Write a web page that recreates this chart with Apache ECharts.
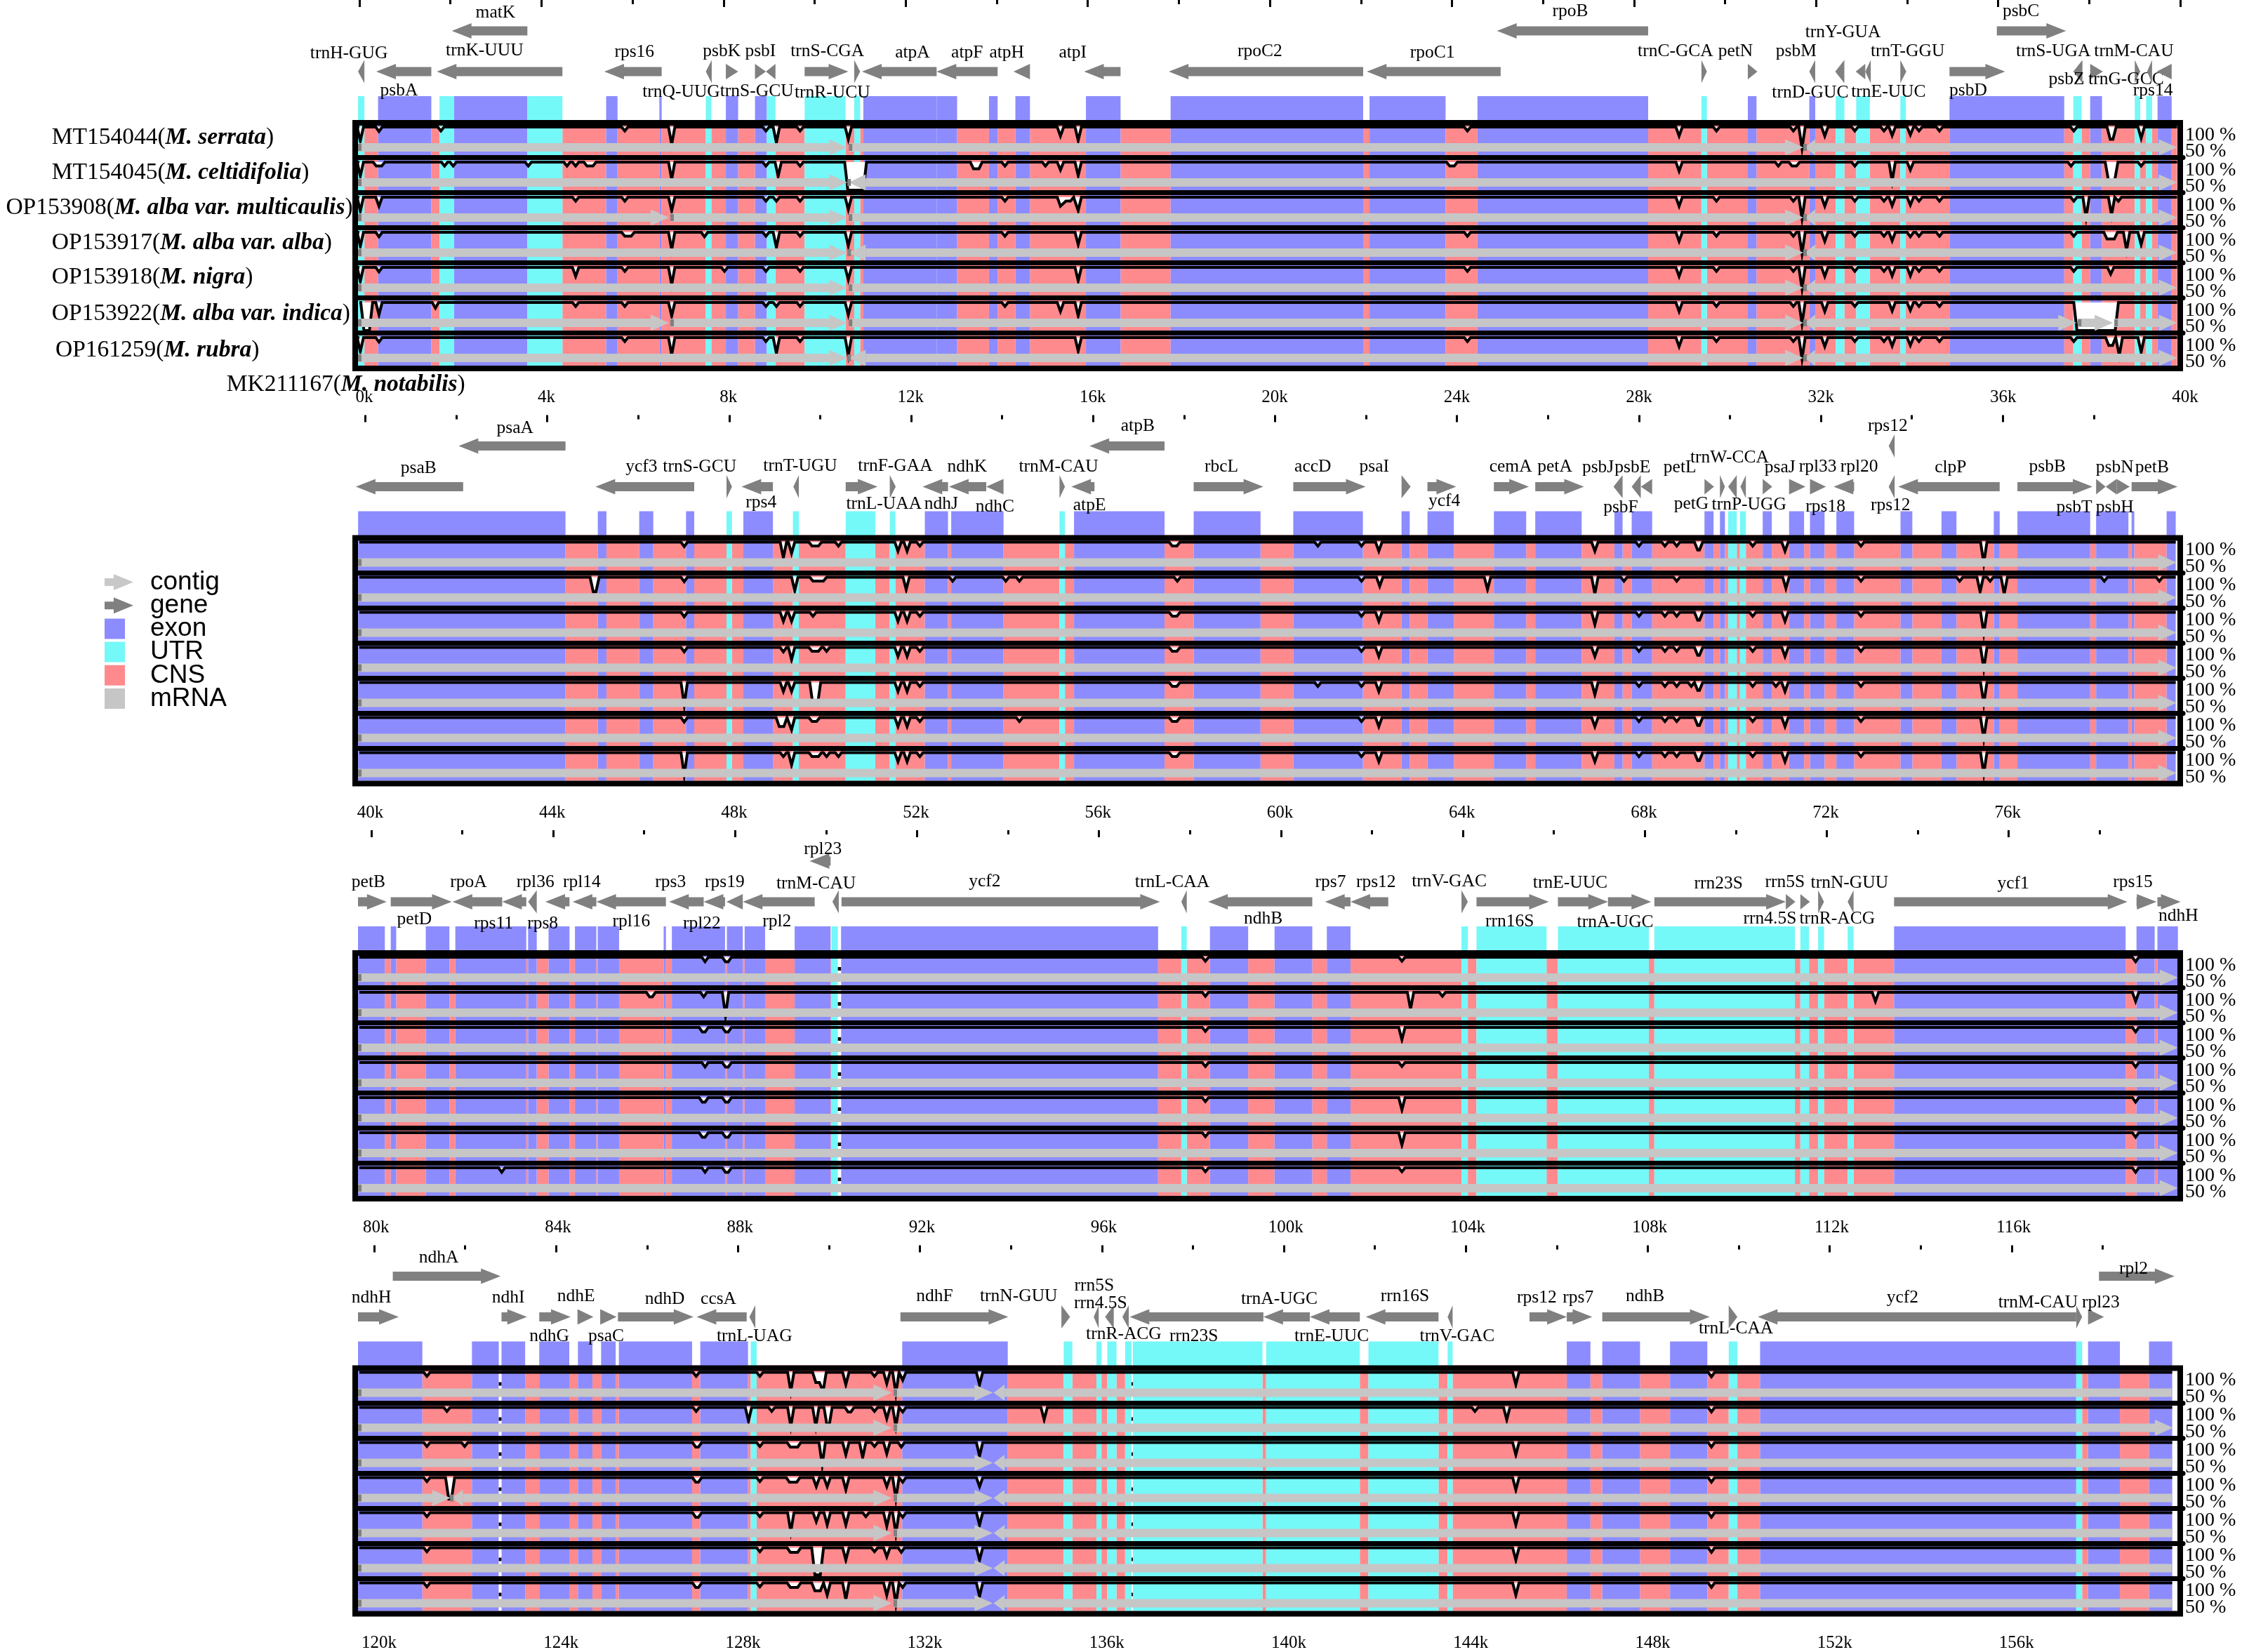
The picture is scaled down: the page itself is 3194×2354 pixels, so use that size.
<!DOCTYPE html>
<html>
<head>
<meta charset="utf-8">
<title>mVISTA</title>
<script src="https://cdn.jsdelivr.net/npm/echarts@6/dist/echarts.min.js"></script>
<style>
html,body{margin:0;padding:0;background:#fff}
#main{width:3194px;height:2354px}
</style>
</head>
<body>
<div id="main"></div>
<script>
// all x values are in kb
var panelStart = [-0.031, 39.838, 79.71, 119.645];
var panelEnd = [40.06, 79.961, 119.833, 159.768];
var bandEnd = [39.93, 79.8, 119.72, 159.53];

var majorTicks = [
	[0,4,8,12,16,20,24,28,32,36,40],
	[40,44,48,52,56,60,64,68,72,76],
	[80,84,88,92,96,100,104,108,112,116],
	[120,124,128,132,136,140,144,148,152,156]
];
var minorTicks = [
	[2,6,10,14,18,22,26,30,34,38],
	[42,46,50,54,58,62,66,70,74,78],
	[82,86,90,94,98,102,106,110,114,118],
	[122,126,130,134,138,142,146,150,154,158]
];

var trackNames = ['M. serrata','M. celtidifolia','M. alba var. multicaulis','M. alba var. alba','M. nigra','M. alba var. indica','M. rubra'];
var trackIds = ['MT154044','MT154045','OP153908','OP153917','OP153918','OP153922','OP161259'];

// exon and UTR blocks, the gaps between them are CNS
var exons1 = [[.41,1.58],[2.08,3.69],[5.42,5.67],[6.59,6.64],[8.05,8.32],[8.69,8.95],[11.07,12.68],[12.68,13.13],[13.83,14.02],[14.41,14.73],[15.96,16.72],[17.82,22.05],[22.19,23.86],[24.56,28.31],[30.5,30.69],[31.85,31.98],[34.93,37.45],[38.02,38.28],[39.5,39.81]];
var utrs1 = [[-.031,.11],[1.76,2.08],[3.69,4.46],[7.61,7.73],[8.95,9.14],[9.78,10.68],[10.87,11],[29.48,29.6],[32.43,32.62],[32.88,33.18],[33.85,33.97],[37.65,37.83],[39,39.12],[39.25,39.38]];
var exons2 = [[39.84,44.4],[45.11,45.3],[46.02,46.33],[47.05,47.23],[48.31,48.96],[52.3,52.81],[52.88,54.03],[55.58,57.57],[58.21,59.68],[60.4,61.93],[62.78,62.96],[63.35,63.93],[64.81,65.52],[65.72,66.74],[67.46,67.64],[67.84,68.29],[69.44,69.64],[69.78,69.89],[70.72,70.92],[71.3,71.63],[71.76,72.08],[72.34,72.73],[73.75,74.01],[74.65,74.98],[75.8,75.93],[76.32,77.92],[78.05,78.76],[78.83,78.89],[79.6,79.8]];
var utrs2 = [[47.94,48.06],[49.4,49.53],[50.56,51.21],[51.53,51.65],[55.26,55.38],[69.96,70.15],[70.22,70.35]];
var exons3 = [[79.71,80.3],[80.43,80.55],[81.2,81.72],[81.85,83.41],[83.45,83.64],[83.9,84.36],[84.48,84.95],[84.98,85.45],[86.43,86.48],[86.61,87.78],[87.82,88.17],[88.21,88.66],[89.31,90.1],[90.33,97.3],[98.44,99.28],[99.86,100.69],[101.01,101.53],[113.48,118.57],[118.81,119.21],[119.27,119.72]];
var utrs3 = [[90.12,90.26],[97.81,97.93],[103.97,104.11],[104.3,105.84],[106.09,108.09],[108.21,111.3],[111.42,111.61],[111.81,111.94],[112.46,112.59]];
var exons4 = [[119.645,121.06],[122.15,122.74],[122.8,123.32],[123.63,124.29],[124.48,124.8],[124.99,125.31],[125.38,126.99],[127.17,128.22],[131.61,133.93],[146.22,146.74],[147,147.83],[148.49,149.31],[150.47,157.42],[157.68,158.38],[159.02,159.53]];
var utrs4 = [[128.28,128.41],[135.16,135.35],[135.88,135.99],[136.12,136.32],[136.51,136.65],[136.68,139.53],[139.61,141.67],[141.86,143.4],[143.6,143.71],[149.78,149.97],[157.42,157.55]];

// short alignment holes
var holes3 = [[90.26,90.33]];
var holes4 = [[122.74,122.8],[136.65,136.68]];

// genes, a span runs from tail to tip. the first ones of each panel sit on the upper lane
var upperCount = [3, 3, 1, 2];
var geneNames1 = ['matK','rpoB','psbC','trnH-GUG','psbA','trnK-UUU','rps16','trnQ-UUG','psbK','trnS-GCU','psbI','trnS-CGA','trnR-UCU','atpA','atpF','atpH','atpI','rpoC2','rpoC1','trnC-GCA','petN','psbM','trnD-GUC','trnY-GUA','trnE-UUC','trnT-GGU','psbD','trnS-UGA','psbZ','trnG-GCC','trnM-CAU','rps14'];
var geneSpans1 = [[3.69,2.03],[28.31,24.99],[35.97,37.49],[.11,-.03],[1.58,.37],[4.46,1.7],[6.64,5.38],[7.74,7.61],[8.05,8.32],[8.69,8.93],[9.14,8.93],[9.78,10.74],[10.87,11],[12.68,11.04],[14.02,12.68],[14.73,14.37],[16.72,15.92],[22.05,17.78],[25.07,22.13],[29.48,29.6],[30.5,30.71],[31.98,31.85],[32.62,32.42],[33.08,32.87],[33.2,33.08],[33.85,33.98],[34.93,36.15],[37.85,37.65],[38.02,38.3],[39,39.12],[39.38,39.27],[39.81,39.48]];
var geneNames2 = ['psaA','atpB','rps12','psaB','ycf3','trnS-GCU','rps4','trnT-UGU','trnF-GAA','trnL-UAA','ndhJ','ndhK','ndhC','trnM-CAU','atpE','rbcL','accD','psaI','ycf4','cemA','petA','psbJ','psbF','psbE','petL','petG','trnW-CCA','trnP-UGG','psaJ','rpl33','rps18','rpl20','rps12','clpP','psbB','psbT','psbN','psbH','petB'];
var geneSpans2 = [[44.4,42.05],[57.57,55.92],[73.62,73.49],[42.15,39.79],[47.23,45.06],[47.94,48.06],[48.96,48.27],[49.53,49.41],[50.56,51.26],[51.53,51.66],[52.81,52.25],[53.65,52.83],[54.03,53.65],[55.26,55.38],[56.03,55.52],[58.21,59.74],[60.4,61.99],[62.78,62.98],[63.35,63.98],[64.81,65.58],[65.72,66.79],[67.64,67.44],[68.04,67.84],[68.29,68.04],[69.44,69.65],[69.78,69.89],[70.15,69.96],[70.35,70.23],[70.72,70.93],[71.3,71.66],[71.76,72.11],[72.73,72.28],[73.62,73.49],[75.93,73.7],[76.32,77.97],[78.05,78.26],[78.5,78.26],[78.5,78.79],[78.83,79.84]];
var geneNames3 = ['rpl23','petB','petD','rpoA','rps11','rpl36','rps8','rpl14','rpl16','rps3','rpl22','rps19','rpl2','trnM-CAU','ycf2','trnL-CAA','ndhB','rps7','rps12','trnV-GAC','rrn16S','trnE-UUC','trnA-UGC','rrn23S','rrn4.5S','rrn5S','trnR-ACG','trnN-GUU','ycf1','rps15','ndhH'];
var geneSpans3 = [[90.1,89.64],[79.71,80.34],[80.43,81.77],[82.88,81.79],[83.41,82.88],[83.64,83.45],[84.36,83.83],[84.95,84.43],[86.48,84.95],[87.31,86.55],[87.78,87.31],[88.17,87.81],[89.75,88.17],[90.28,90.14],[90.34,97.34],[97.93,97.81],[100.69,98.4],[101.53,100.97],[102.36,101.53],[103.97,104.11],[104.3,105.89],[106.09,107.19],[107.19,108.14],[108.21,111.1],[111.1,111.31],[111.42,111.63],[111.81,111.94],[112.59,112.46],[113.48,118.61],[118.81,119.25],[119.27,119.78]];
var geneNames4 = ['ndhA','rpl2','ndhH','ndhI','ndhG','ndhE','psaC','ndhD','ccsA','trnL-UAG','ndhF','trnN-GUU','rrn5S','rrn4.5S','trnR-ACG','rrn23S','trnA-UGC','trnE-UUC','rrn16S','trnV-GAC','rps12','rps7','ndhB','trnL-CAA','ycf2','trnM-CAU','rpl23'];
var geneSpans4 = [[120.41,122.78],[157.92,159.58],[119.645,120.54],[122.8,123.36],[123.63,124.32],[124.47,124.82],[124.97,125.33],[125.36,127.02],[128.19,127.09],[128.38,128.25],[131.57,133.94],[135.11,135.3],[135.93,135.82],[136.26,136.07],[136.59,136.45],[139.55,136.61],[140.57,139.55],[141.67,140.57],[143.4,141.8],[143.71,143.6],[145.4,146.22],[146.22,146.78],[147,149.36],[149.78,149.97],[157.42,150.42],[157.42,157.55],[157.68,158.03]];

// where each gene's name goes: kb, height
var labelPlace1 = [[2.99,18],[26.6,16],[36.5,16],[-.23,76.5],[.87,129],[2.75,72],[6.04,74],[7.07,131.6],[7.96,73.5],[8.73,130],[8.81,73.5],[10.28,73.5],[10.39,132],[12.15,75],[13.35,75],[14.22,75],[15.67,75],[19.78,73.5],[23.57,75],[28.91,73.5],[30.23,73.5],[31.56,73.5],[31.87,132],[32.59,46],[33.59,131],[34.01,73.5],[35.34,129],[37.21,73.5],[37.5,113],[38.81,113],[38.98,73.5],[39.4,129]];
var labelPlace2 = [[43.29,19],[56.98,16],[73.47,16],[41.17,76],[46.07,74],[47.35,73.5],[48.7,124.4],[49.56,72.7],[51.65,72.7],[51.4,126.7],[52.66,126.7],[53.23,73.5],[53.84,131],[55.24,73.5],[55.92,129],[58.82,73.5],[60.83,73.5],[62.18,74],[63.72,122.4],[65.18,74],[66.15,74],[67.1,75],[67.6,132],[67.86,75],[68.9,75],[69.15,127],[69.99,61],[70.42,127.5],[71.1,75],[71.93,74],[72.1,131],[72.84,73.5],[73.53,129],[74.85,75],[76.98,73.5],[77.57,132],[78.46,75],[78.46,132],[79.28,75]];
var labelPlace3 = [[89.93,27],[79.94,74.5],[80.95,127],[82.14,74.5],[82.69,133],[83.61,74.5],[83.77,133],[84.63,74.5],[85.72,130],[86.58,74.5],[87.27,133],[87.77,74.5],[88.92,130],[89.78,76],[93.49,73.5],[97.61,74.5],[99.61,126],[101.09,74.5],[102.09,74.5],[103.7,73.5],[105.03,130],[106.36,75],[107.35,131],[109.62,76],[110.75,126],[111.08,74.5],[112.23,126],[112.5,75],[116.1,76],[118.73,74.5],[119.73,122.7]];
var labelPlace4 = [[121.42,17.7],[158.68,33.6],[119.94,74.5],[122.95,74.5],[123.85,130],[124.44,73],[125.1,130],[126.39,76.4],[127.57,76.4],[128.36,130],[132.32,73],[134.17,73],[135.83,57.5],[135.97,83],[136.48,127],[138.02,130],[139.9,76.4],[141.05,129.4],[142.66,73],[143.81,129.4],[145.56,74.5],[146.47,74.5],[147.94,73],[149.94,119],[153.6,74.5],[156.58,81.3],[157.96,81.3]];

// contigs per track. third value 0: ends without a head, fourth value 0: no dark start mark
var contigs1 = [
	[[-.031,10.72],[10.75,31.72],[31.98,31.75],[31.98,39.93,1,0]],
	[[-.031,10.72],[11.12,10.75],[11.12,39.93,1,0]],
	[[-.031,6.8],[6.83,10.72],[10.75,31.72],[31.98,31.75],[31.98,39.93,1,0]],
	[[-.031,10.72],[11.12,10.75],[11.12,31.72,1,0],[31.98,31.75],[31.98,39.93,1,0]],
	[[-.031,10.72],[10.75,31.72],[31.98,31.75],[31.98,39.93,1,0]],
	[[-.031,6.8],[6.83,10.72],[10.75,31.72],[31.98,31.75],[31.98,37.72,1,0],[37.75,38.52],[38.55,39.93]],
	[[-.031,10.72],[11.12,10.75],[11.12,31.72,1,0],[31.98,31.75],[31.98,39.93,1,0]]
];
var contigs2 = [[[39.84,79.82]],[[39.84,79.82]],[[39.84,79.82]],[[39.84,79.82]],[[39.84,79.82]],[[39.84,79.82]],[[39.84,79.82]]];
var contigs3 = [[[79.71,119.72]],[[79.71,119.72]],[[79.71,119.72]],[[79.71,119.72]],[[79.71,119.72]],[[79.71,119.72]],[[79.71,119.72]]];
var contigs4 = [
	[[119.645,131.38],[131.42,133.6],[133.86,133.62,1,0],[133.86,159.52,0,0]],
	[[119.645,131.38],[131.42,159.55]],
	[[119.645,133.6],[133.86,133.62,1,0],[133.86,159.52,0,0]],
	[[119.645,121.68],[121.95,121.7],[121.95,131.38,1,0],[131.42,133.6],[133.86,133.62,1,0],[133.86,159.52,0,0]],
	[[119.645,131.38],[131.42,133.6],[133.86,133.62,1,0],[133.86,159.52,0,0]],
	[[119.645,133.6],[133.86,133.62,1,0],[133.86,159.52,0,0]],
	[[119.645,131.38],[131.42,133.6],[133.86,133.62,1,0],[133.86,159.52,0,0]]
];

// dips of the identity curve per track: kb, lowest %, optional half width of a flat bottom
var dips1 = [
	[[.02,75],[.43,92],[1.79,93],[5.83,93],[6.86,69],[8.93,93],[9.16,72],[9.68,93],[10.74,78],[15.4,84],[15.79,76],[24.34,93],[28.99,84],[29.81,93],[31.5,93],[31.69,62],[32.19,84],[32.85,93],[33.49,93],[33.67,85],[34.07,86],[34.26,93],[34.71,93],[37.66,93],[38.49,78,.03],[39.14,80]],
	[[.02,75],[.43,93,.06],[1.87,93],[2.06,93],[3.71,93],[4.56,93],[4.75,93],[5,93],[5.13,93],[6.86,69],[8.93,93],[9.2,75],[9.68,93],[10.9,50,.17],[13.55,88,.06],[14.18,93],[15.07,93],[15.4,86],[15.79,76],[24,93,.05],[28.99,84],[31.17,93],[31.52,93,.05],[32.85,93],[33.67,66],[34.07,86],[37.6,93],[38.49,68,.07],[39.14,93]],
	[[.02,75],[.43,84],[4.75,93],[5.83,93],[6.86,76],[8.93,93],[9.16,93],[9.68,93],[10.74,78],[14.18,93],[15.4,84],[15.57,93,.05],[15.79,76],[28.99,84],[29.81,93],[31.5,93],[31.69,62],[32.19,84],[32.85,93],[33.49,93],[33.67,85],[34.07,86],[34.26,93],[34.71,93],[37.66,93],[37.93,64],[38.49,68],[38.64,93]],
	[[.02,75],[.43,92],[5.83,93],[5.97,93],[6.86,69],[7.58,92],[8.93,93],[9.16,73],[9.68,93],[10.74,76],[14.18,93],[15.79,78],[24.34,93],[28.99,84],[29.81,93],[31.5,93],[31.69,62],[32.19,84],[32.85,93],[33.49,93],[33.67,85],[34.07,92],[34.26,93],[34.71,93],[37.66,93],[38.47,88,.08],[38.82,68],[39.14,78]],
	[[.02,75],[.43,92],[4.75,84],[5.83,93],[6.86,69],[8.02,93],[8.93,93],[9.68,93],[10.74,78],[15.79,76],[24.34,93],[28.99,84],[29.81,93],[31.5,93],[31.69,62],[32.19,84],[32.85,93],[33.49,93],[33.67,85],[34.07,85],[34.26,93],[34.71,93],[37.66,93],[38.47,88]],
	[[.16,50,.06],[.43,78],[1.67,90],[4.75,93],[5.83,93],[6.86,76],[8.93,93],[9.16,93],[9.68,93],[10.74,78],[14.18,93],[15.4,84],[15.79,76],[28.99,84],[29.81,93],[31.5,93],[31.69,62],[32.19,84],[32.85,93],[33.67,85],[34.07,86],[34.26,93],[34.71,93],[38.15,50,.42]],
	[[.02,75],[.43,92],[5.83,93],[6.86,69],[8.93,93],[9.16,72],[9.68,93],[10.74,68],[15.79,76],[24.34,93],[28.99,84],[29.81,93],[31.5,93],[31.69,62],[32.19,84],[32.85,93],[33.49,93],[33.67,85],[34.07,86],[34.26,93],[34.71,93],[37.66,93],[38.47,86,.04],[38.66,68],[39.14,74]]
];
var dips2 = [
	[[47.01,92],[49.19,72],[49.37,80],[49.89,93,.07],[50.4,93],[51.71,84],[51.91,84],[52.19,93],[57.79,93,.05],[60.94,93],[61.9,93],[62.28,84],[67.03,84],[68,93],[68.57,93],[68.83,93],[69.31,86,.02],[70.5,93],[71.21,84],[72.88,93],[75.58,62]],
	[[45.04,74,.03],[47.01,92],[49.44,76],[49.84,93],[50.02,93,.05],[51.89,78],[52.91,93],[54.08,93],[54.38,93],[57.85,93],[61.9,93],[62.3,84],[64.67,78],[67.03,70],[67.67,93],[68.83,93],[71.23,80],[72.88,93],[75.05,93],[75.5,74],[75.72,93],[76.03,70],[78.23,93],[79.44,93]],
	[[47.01,92],[49.19,84],[49.37,84],[49.84,93],[51.71,84],[51.91,84],[52.19,93],[57.79,93,.05],[61.9,93],[62.28,84],[67.03,78],[68,93],[68.57,93],[68.83,93],[69.31,86,.02],[70.5,93],[71.21,84],[72.88,93],[75.58,62]],
	[[47.01,92],[49.19,92],[49.37,78],[49.89,93,.07],[50.14,93],[51.71,84],[51.91,84],[52.19,93],[57.79,93,.05],[61.9,93],[62.28,84],[67.03,84],[68,93],[68.57,93],[68.83,93],[69.31,86,.02],[70.5,93],[71.21,84],[72.88,93],[75.58,62]],
	[[47.01,60],[49.19,84],[49.37,84],[49.89,60,.05],[51.71,84],[51.91,84],[52.19,93],[57.79,93,.05],[60.94,93],[61.9,93],[62.28,84],[67.03,78],[68,93],[68.57,93],[68.83,93],[69.15,93],[69.31,86,.02],[70.5,93],[71.01,93],[71.21,84],[72.88,93],[75.58,62]],
	[[47.01,92],[49.15,84,.05],[49.37,78],[49.87,93,.05],[51.71,84],[51.91,84],[52.19,93],[54.38,93],[57.79,93,.05],[61.9,93],[62.28,84],[67.03,84],[68,93],[68.57,93],[68.83,93],[69.31,86,.02],[70.5,93],[71.21,84],[72.88,93],[75.58,62]],
	[[47.01,60],[49.19,93],[49.37,78],[49.89,93,.07],[50.14,93],[50.4,93],[51.71,84],[51.91,84],[52.19,93],[57.79,93,.05],[61.9,93],[62.28,84],[67.03,84],[68,93],[68.57,93],[68.83,93],[69.31,86,.02],[70.5,93],[71.21,84],[72.88,93],[75.58,62]]
];
var dips3 = [
	[[87.34,92],[87.82,92,.03],[98.34,93],[102.66,93],[118.79,92]],
	[[86.15,92,.03],[87.31,92],[87.79,58],[98.34,93],[102.85,70],[103.55,93],[113.07,84],[118.79,84]],
	[[87.31,92,.03],[87.82,92,.03],[98.34,93],[102.66,78],[118.79,92]],
	[[87.34,92],[87.82,92,.03],[98.34,93],[102.66,93],[118.79,92]],
	[[87.31,92,.03],[87.82,92,.03],[98.34,93],[102.66,78],[118.79,92]],
	[[87.31,92,.03],[87.82,92,.03],[98.34,93],[102.66,78],[118.79,92]],
	[[82.87,92],[87.34,92],[87.82,92,.03],[98.34,93],[102.66,93],[118.79,92]]
];
var dips4 = [
	[[121.16,93],[127.08,93],[128.48,93],[129.16,66],[129.75,82,.04],[129.87,66],[130.37,78],[131,93],[131.27,80],[131.47,62],[131.62,86],[133.31,78],[145.1,78],[149.4,92]],
	[[121.6,93],[127.08,93],[128.23,76],[128.74,93],[129.16,66],[129.71,66],[129.98,66,.02],[130.45,92,.03],[131,93],[131.27,80],[131.47,66],[131.62,92],[134.73,78],[144.2,93],[144.9,78],[149.4,92]],
	[[121.16,93],[121.99,93],[127.1,92,.03],[128.48,93],[129.23,92,.08],[129.85,60],[130.37,78],[130.74,73],[131,93],[131.27,80],[131.59,92],[133.31,76],[145.1,78],[149.4,92]],
	[[121.16,93],[121.67,62,.03],[127.1,92,.03],[128.48,93],[129.21,92,.08],[129.72,84],[129.96,84],[130.37,78],[131.27,84],[131.47,62],[131.62,92],[133.31,84],[145.1,78],[149.4,92]],
	[[121.16,93],[127.1,92,.03],[128.48,93],[129.16,66],[129.72,84],[129.96,78],[130.37,78],[130.81,93],[131.27,76],[131.47,62],[131.62,92],[133.31,78],[145.1,78],[149.4,92]],
	[[121.16,93],[128.48,93],[129.23,92,.08],[129.75,52,.06],[130.37,78],[131,93],[131.27,84],[131.59,92],[133.31,78],[145.1,78],[149.4,92]],
	[[121.16,93],[127.1,92,.03],[128.48,93],[129.23,92,.08],[129.75,86,.06],[129.96,78],[130.37,70],[131.27,78],[131.47,62],[131.62,92],[133.31,76],[145.1,78],[149.4,92]]
];

var allExons = [exons1, exons2, exons3, exons4];
var allUtrs = [utrs1, utrs2, utrs3, utrs4];
var allHoles = [[], [], holes3, holes4];
var allNames = [geneNames1, geneNames2, geneNames3, geneNames4];
var allSpans = [geneSpans1, geneSpans2, geneSpans3, geneSpans4];
var allLabels = [labelPlace1, labelPlace2, labelPlace3, labelPlace4];
var allContigs = [contigs1, contigs2, contigs3, contigs4];
var allDips = [dips1, dips2, dips3, dips4];

var colors = {exon:'#8C8CFF', utr:'#75F8F8', cns:'#FF8A8E', mrna:'#C6C6C6', contig:'#C6C6C6', gene:'#808080'};
var serif = '"Liberation Serif"';

// layout of one panel, the plot grid is counted in pixels from 171 above the frame
var panelPitch = 591.5;
var plotLeft = 510, plotWidth = 2600, plotHeight = 529;
var frameTop = 171, rowPitch = 50;
var upperLane = 44, mainLane = 102, exonTop = 137, bandBottom = 521;

function cnsBlocks(p) {
	var all = allExons[p].concat(allUtrs[p]).sort(function(a, b){ return a[0] - b[0]; });
	var out = [], at = panelStart[p] < 0 ? -0.031 : all[0][0];
	for (var i = 0; i < all.length; i++) {
		if (all[i][0] > at) out.push([at, all[i][0]]);
		at = Math.max(at, all[i][1]);
	}
	if (at < bandEnd[p]) out.push([at, bandEnd[p]]);
	return out;
}

function blockSeries(name, color, blocks, top, x, y) {
	return {
		name: name, type: 'custom', coordinateSystem: 'cartesian2d', xAxisIndex: x, yAxisIndex: y,
		z: 2, silent: true, animation: false, itemStyle: {color: color},
		data: blocks,
		renderItem: function(params, api) {
			var a = api.coord([api.value(0), top]);
			var b = api.coord([api.value(1), bandBottom]);
			return {type: 'rect', shape: {x: a[0], y: a[1], width: b[0] - a[0], height: b[1] - a[1]}, style: {fill: color}};
		}
	};
}

function arrowPoints(x0, x1, y, headLen, headHalf, shaftHalf) {
	var d = x1 > x0 ? 1 : -1, w = Math.abs(x1 - x0);
	if (w <= headLen) return [[x0, y - headHalf], [x1, y], [x0, y + headHalf]];
	var n = x1 - d * headLen;
	return [[x0, y - shaftHalf], [n, y - shaftHalf], [n, y - headHalf], [x1, y], [n, y + headHalf], [n, y + shaftHalf], [x0, y + shaftHalf]];
}

function geneSeries(p, x, y) {
	var names = allNames[p], places = allLabels[p];
	return {
		name: 'gene', type: 'custom', coordinateSystem: 'cartesian2d', xAxisIndex: x, yAxisIndex: y,
		z: 3, silent: true, animation: false, itemStyle: {color: colors.gene},
		data: allSpans[p],
		renderItem: function(params, api) {
			var i = params.dataIndex;
			var lane = i < upperCount[p] ? upperLane : mainLane;
			var a = api.coord([api.value(0), lane]);
			var b = api.coord([api.value(1), lane]);
			var w = Math.abs(b[0] - a[0]);
			var pts = w <= 13 ? arrowPoints(a[0], b[0], a[1], 28, 16.5, 6.5) : arrowPoints(a[0], b[0], a[1], 28, 11, 6.5);
			var t = api.coord([places[i][0], places[i][1]]);
			return {type: 'group', children: [
				{type: 'polygon', shape: {points: pts}, style: {fill: colors.gene}},
				{type: 'text', style: {x: t[0], y: t[1], text: names[i], align: 'center', verticalAlign: 'middle', fill: '#000', font: '25.5px ' + serif}}
			]};
		}
	};
}

function contigSeries(p, x, y) {
	var rows = [];
	allContigs[p].forEach(function(list, t) {
		list.forEach(function(c) {
			rows.push([c[0], c[1], t, c[2] === 0 ? 0 : 1, c[3] === 0 ? 0 : 1]);
		});
	});
	return {
		name: 'contig', type: 'custom', coordinateSystem: 'cartesian2d', xAxisIndex: x, yAxisIndex: y,
		z: 5, silent: true, animation: false, itemStyle: {color: colors.contig},
		data: rows,
		renderItem: function(params, api) {
			var yy = frameTop + 39 + rowPitch * api.value(2);
			var a = api.coord([api.value(0), yy]);
			var b = api.coord([api.value(1), yy]);
			var pts = api.value(3) ? arrowPoints(a[0], b[0], a[1], 26, 11.5, 6) : arrowPoints(a[0], b[0], a[1], 0, 6, 6);
			var kids = [{type: 'polygon', shape: {points: pts}, style: {fill: colors.contig}}];
			if (api.value(4)) {
				// forward pieces carry the mark at the start, reversed ones at the tip
				var dashX = b[0] > a[0] ? a[0] : b[0] - 2;
				kids.push({type: 'rect', shape: {x: dashX, y: a[1] - 5, width: 5, height: 10}, style: {fill: colors.gene}});
			}
			return {type: 'group', children: kids};
		}
	};
}

function holeSeries(p, x, y) {
	var rows = [];
	allHoles[p].forEach(function(h) {
		for (var t = 0; t < 7; t++) rows.push([h[0], h[1], t]);
	});
	return {
		type: 'custom', coordinateSystem: 'cartesian2d', xAxisIndex: x, yAxisIndex: y,
		z: 3, silent: true, animation: false,
		data: rows,
		renderItem: function(params, api) {
			var rowTop = frameTop + rowPitch * api.value(2);
			var a = api.coord([api.value(0), rowTop]);
			var b = api.coord([api.value(1), rowTop + rowPitch]);
			return {type: 'group', children: [
				{type: 'rect', shape: {x: a[0], y: a[1], width: b[0] - a[0], height: b[1] - a[1]}, style: {fill: '#fff'}},
				{type: 'rect', shape: {x: a[0], y: a[1] + 24, width: b[0] - a[0], height: 5}, style: {fill: '#000'}}
			]};
		}
	};
}

// turn a track's dips into the identity curve
function curvePoints(p, t) {
	var hw = 0.07, pts = [[panelStart[p] + 0.03, 100]], prevRight = null;
	allDips[p][t].forEach(function(d) {
		var flat = d[2] || 0, left = d[0] - flat - hw, right = d[0] + flat + hw;
		if (prevRight !== null && prevRight < left) {
			pts.push([prevRight, 100]);
			pts.push([left, 100]);
		} else if (prevRight === null) {
			pts.push([left, 100]);
		}
		pts.push([d[0] - flat, d[1]]);
		if (flat) pts.push([d[0] + flat, d[1]]);
		prevRight = right;
	});
	pts.push([prevRight, 100]);
	pts.push([bandEnd[p], 100]);
	return pts;
}

var grid = [], xAxis = [], yAxis = [], series = [];

for (var p = 0; p < 4; p++) {
	(function(p) {
		var off = panelPitch * p;
		// plot grid: blocks, genes, contigs, major ticks
		var g = grid.length;
		grid.push({left: plotLeft, top: off, width: plotWidth, height: plotHeight, z: 1});
		var xPlot = xAxis.length, yPlot = yAxis.length;
		xAxis.push({
			gridIndex: g, type: 'value', min: panelStart[p], max: panelEnd[p], position: 'bottom',
			axisLine: {show: false}, splitLine: {show: false},
			axisTick: {length: 10, lineStyle: {color: '#000', width: 3}, customValues: majorTicks[p]},
			axisLabel: {
				customValues: majorTicks[p], margin: 25, padding: [0, 0, 0, 14],
				formatter: function(v){ return v + 'k'; },
				fontFamily: 'Liberation Serif', fontSize: 25, color: '#000'
			}
		});
		yAxis.push({gridIndex: g, type: 'value', min: 0, max: plotHeight, inverse: true, show: false, splitLine: {show: false}});

		// same spot again for the short ticks, two x axes on one grid would flip to the top
		var gm = grid.length;
		grid.push({left: plotLeft, top: off, width: plotWidth, height: plotHeight, z: 1});
		xAxis.push({
			gridIndex: gm, type: 'value', min: panelStart[p], max: panelEnd[p], position: 'bottom',
			axisLine: {show: false}, splitLine: {show: false}, axisLabel: {show: false},
			axisTick: {length: 6, lineStyle: {color: '#000', width: 3}, customValues: minorTicks[p]}
		});
		yAxis.push({gridIndex: gm, type: 'value', min: 0, max: plotHeight, inverse: true, show: false, splitLine: {show: false}});

		series.push(blockSeries('CNS', colors.cns, cnsBlocks(p), frameTop, xPlot, yPlot));
		series.push(blockSeries('exon', colors.exon, allExons[p], exonTop, xPlot, yPlot));
		series.push(blockSeries('UTR', colors.utr, allUtrs[p], exonTop, xPlot, yPlot));
		if (allHoles[p].length) series.push(holeSeries(p, xPlot, yPlot));
		series.push(geneSeries(p, xPlot, yPlot));
		series.push(contigSeries(p, xPlot, yPlot));

		// one grid per track so the % axis is real
		for (var t = 0; t < 7; t++) {
			var gt = grid.length;
			grid.push({left: plotLeft, top: off + 181 + rowPitch * t, width: plotWidth, height: 40, z: 1});
			var xi = xAxis.length, yi = yAxis.length;
			xAxis.push({
				gridIndex: gt, type: 'value', min: panelStart[p], max: panelEnd[p], position: 'top', offset: 6.5, z: 6,
				axisLine: {show: t > 0, onZero: false, lineStyle: {color: '#000', width: 7}},
				axisTick: {show: false}, axisLabel: {show: false}, splitLine: {show: false}
			});
			yAxis.push({
				gridIndex: gt, type: 'value', min: 50, max: 100, interval: 25, position: 'right',
				axisLine: {show: false}, axisTick: {show: false}, splitLine: {show: false},
				axisLabel: {
					margin: 3, fontFamily: 'Liberation Serif', fontSize: 28, color: '#000', align: 'left',
					showMinLabel: true, showMaxLabel: true,
					verticalAlignMaxLabel: 'top', verticalAlignMinLabel: 'bottom',
					// the 75 tick only keeps the two labels from being compared for overlap
					formatter: function(v){ return v == 100 ? '{a|100 %}' : v == 50 ? '{b|50 %}' : ''; },
					rich: {
						a: {fontFamily: 'Liberation Serif', fontSize: 28, lineHeight: 20, padding: [3, 0, 0, 0], color: '#000'},
						b: {fontFamily: 'Liberation Serif', fontSize: 28, lineHeight: 10, color: '#000'}
					}
				}
			});
			series.push({
				type: 'line', xAxisIndex: xi, yAxisIndex: yi, z: 4, silent: true, animation: false,
				showSymbol: false, clip: false,
				lineStyle: {color: '#000', width: 4, join: 'miter', miterLimit: 10},
				areaStyle: {origin: 'end', color: '#fff', opacity: 1},
				data: curvePoints(p, t)
			});
		}

		// black frame on top of everything
		var gf = grid.length;
		grid.push({
			show: true, left: 506, top: off + frameTop + 4, width: 2600, height: 350, z: 8,
			backgroundColor: 'transparent', borderColor: '#000', borderWidth: 8
		});
		xAxis.push({gridIndex: gf, type: 'value', show: false, min: 0, max: 1, splitLine: {show: false}});
		yAxis.push({gridIndex: gf, type: 'value', show: false, min: 0, max: 1, splitLine: {show: false}});
	})(p);
}

// legend only, mRNA has no marks of its own besides the contig bars
series.push({name: 'mRNA', type: 'custom', coordinateSystem: 'cartesian2d', xAxisIndex: 0, yAxisIndex: 0, data: [], itemStyle: {color: colors.mrna}, renderItem: function(){ return null; }});

var trackText = [];
var rowLabelX = [73.7, 73.7, 8.4, 73.7, 73.7, 73.7, 79];
var rowLabelY = [198, 248, 298, 348.7, 397, 449.7, 501.7];
var richRow = {
	a: {fontFamily: 'Liberation Serif', fontSize: 33.5, fill: '#000'},
	b: {fontFamily: 'Liberation Serif', fontSize: 33.5, fontWeight: 'bold', fontStyle: 'italic', fill: '#000'}
};
trackIds.forEach(function(id, i) {
	trackText.push({
		type: 'text', left: rowLabelX[i], top: rowLabelY[i] - 19, z: 20,
		style: {text: '{a|' + id + '(}{b|' + trackNames[i] + '}{a|)}', rich: richRow}
	});
});
trackText.push({
	type: 'text', left: 322.7, top: 550.5 - 19, z: 20,
	style: {text: '{a|MK211167(}{b|M. notabilis}{a|)}', rich: richRow}
});

var rectIcon = 'path://M0 0H29V29H0Z M41 29';
var chart = echarts.init(document.getElementById('main'));
chart.setOption({
	animation: false,
	backgroundColor: '#fff',
	legend: {
		orient: 'vertical', left: 149, top: 811, padding: 0, itemWidth: 41, itemHeight: 29, itemGap: -3.8,
		selectedMode: false, z: 20,
		textStyle: {fontFamily: 'Liberation Sans', fontSize: 37, color: '#000', lineHeight: 29, padding: [0, 0, 0, 19]},
		data: [
			{name: 'contig', icon: 'path://M0 9H13V3L41 14.5L13 26V20H0Z M0 0 M41 29', itemStyle: {color: '#C8C8C8'}},
			{name: 'gene', icon: 'path://M0 9H13V3L41 14.5L13 26V20H0Z M0 0 M41 29', itemStyle: {color: '#808080'}},
			{name: 'exon', icon: rectIcon, itemStyle: {color: colors.exon}},
			{name: 'UTR', icon: rectIcon, itemStyle: {color: colors.utr}},
			{name: 'CNS', icon: rectIcon, itemStyle: {color: colors.cns}},
			{name: 'mRNA', icon: rectIcon, itemStyle: {color: colors.mrna}}
		]
	},
	grid: grid,
	xAxis: xAxis,
	yAxis: yAxis,
	series: series,
	graphic: trackText
});
</script>
</body>
</html>
